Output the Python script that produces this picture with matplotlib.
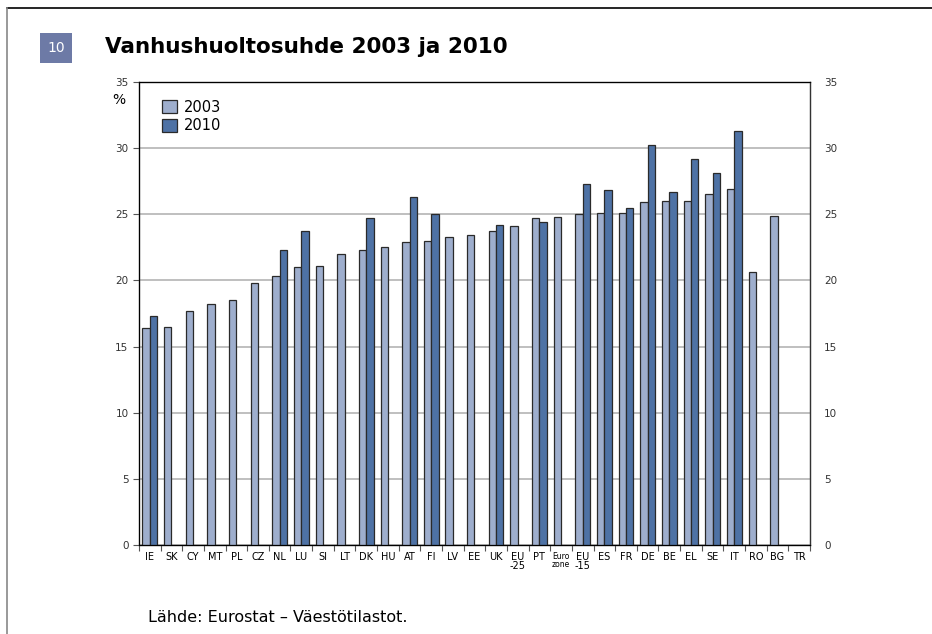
import matplotlib.pyplot as plt
import numpy as np
from matplotlib.lines import Line2D
from matplotlib.patches import Rectangle

countries = ['IE', 'SK', 'CY', 'MT', 'PL', 'CZ', 'NL', 'LU', 'SI', 'LT', 'DK',
             'HU', 'AT', 'FI', 'LV', 'EE', 'UK', 'EU\n-25', 'PT', 'Euro\nzone',
             'EU\n-15', 'ES', 'FR', 'DE', 'BE', 'EL', 'SE', 'IT', 'RO', 'BG', 'TR']

v2003 = [16.4, 16.5, 17.7, 18.2, 18.5, 19.8, 20.3, 21.0, 21.1, 22.0, 22.3,
         22.5, 22.9, 23.0, 23.3, 23.4, 23.7, 24.1, 24.7, 24.8, 25.0, 25.1,
         25.1, 25.9, 26.0, 26.0, 26.5, 26.9, 20.6, 24.9, np.nan]

v2010 = [17.3, np.nan, np.nan, np.nan, np.nan, np.nan, 22.3, 23.7, np.nan, np.nan, 24.7,
         np.nan, 26.3, 25.0, np.nan, np.nan, 24.2, np.nan, 24.45, np.nan, 27.3, 26.8,
         25.45, 30.25, 26.7, 29.2, 28.1, 31.3, np.nan, np.nan, np.nan]

c2003 = '#9eaecd'
c2010 = '#4e72a5'
edge = '#2a2a2a'

fig = plt.figure(figsize=(9.32, 6.34), dpi=100)
ax = fig.add_axes([0.1491, 0.1404, 0.72, 0.7303])

x = np.arange(len(countries))
w = 0.34
b1 = ax.bar(x - w / 2, v2003, w, color=c2003, edgecolor=edge, linewidth=0.9, zorder=3)
b2 = ax.bar(x + w / 2, v2010, w, color=c2010, edgecolor=edge, linewidth=0.9, zorder=3)

ax.set_xlim(-0.5, len(countries) - 0.5)
ax.set_ylim(0, 35)
ax.set_yticks(range(0, 36, 5))
ax.grid(axis='y', color='#b4b4b4', linewidth=1.2, zorder=0)
ax.set_axisbelow(True)

ax.set_xticks(np.arange(len(countries) + 1) - 0.5)
ax.set_xticklabels([])
ax.set_xticks(x, minor=True)
ax.set_xticklabels(countries, minor=True, fontsize=7, linespacing=0.9)
ax.tick_params(axis='x', which='minor', length=0, pad=5)
ax.tick_params(axis='x', which='major', length=4, color='#555555')
for lab in ax.get_xticklabels(minor=True):
    if lab.get_text() == 'Euro\nzone':
        lab.set_fontsize(5.5)

ax.tick_params(axis='y', labelsize=7.5, length=4, color='#555555', labelcolor='#333333')
for s in ax.spines.values():
    s.set_color('#555555')
    s.set_linewidth(1)

ax2 = ax.twinx()
ax2.set_ylim(0, 35)
ax2.set_yticks(range(0, 36, 5))
ax2.tick_params(axis='y', labelsize=7.5, length=0, pad=10, labelcolor='#333333')
ax2.spines['right'].set_color('#333333')

ax.text(-0.02, 0.96, '%', transform=ax.transAxes, ha='right', va='center', fontsize=10)

ax.legend([b1, b2], ['2003', '2010'], loc='upper left', bbox_to_anchor=(0.015, 0.99),
          frameon=False, fontsize=10.5, handlelength=1.0, handleheight=1.0,
          handletextpad=0.5, labelspacing=0.25)

# frame lines of the page
fig.add_artist(Line2D([7 / 932, 1], [1 - 8 / 634, 1 - 8 / 634], color='black', linewidth=1.2))
fig.add_artist(Line2D([7 / 932, 7 / 932], [0, 1 - 8 / 634], color='#888888', linewidth=1.2))

# number box
fig.add_artist(Rectangle((40 / 932, 1 - 63 / 634), 32 / 932, 30 / 634,
                         facecolor='#6d7aa6', edgecolor='none'))
fig.text(56 / 932, 1 - 48 / 634, '10', color='white', fontsize=10, ha='center', va='center')

fig.text(105 / 932, 1 - 47 / 634, 'Vanhushuoltosuhde 2003 ja 2010',
         fontsize=15.5, fontweight='bold', ha='left', va='center')

fig.text(148 / 932, 1 - 618 / 634, 'Lähde: Eurostat – Väestötilastot.',
         fontsize=11.5, ha='left', va='center')

fig.savefig('out.png', dpi=100)
